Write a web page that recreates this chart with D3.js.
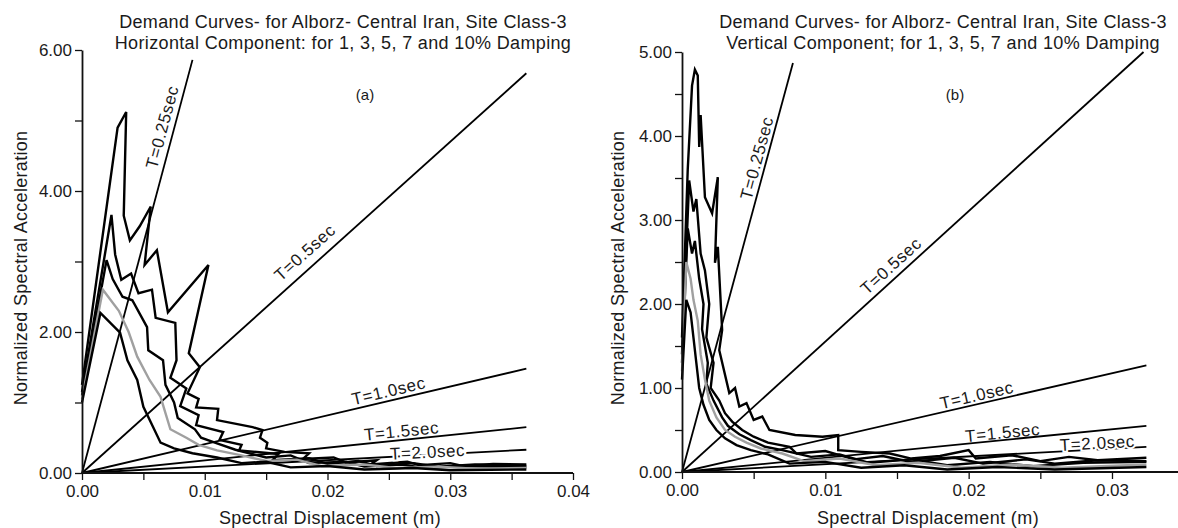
<!DOCTYPE html>
<html><head><meta charset="utf-8">
<script src="https://cdn.jsdelivr.net/npm/d3@7"></script>
<style>
body{margin:0;background:#fff}
text{font-family:"Liberation Sans",Arial,sans-serif;fill:#1a1a1a}
</style>
</head><body>
<svg id="chart" width="1178" height="528"></svg>
<script>
// ---------------- DATA ----------------
const periodLabels = ["T=0.25sec", "T=0.5sec", "T=1.0sec", "T=1.5sec", "T=2.0sec"];
const dampingLevels = ["1%", "3%", "5%", "7%", "10%"];

// Panel (a): horizontal component
const hTitle1 = "Demand Curves- for Alborz- Central Iran, Site Class-3";
const hTitle2 = "Horizontal Component: for 1, 3, 5, 7 and 10% Damping";
const hYTicks = [0, 1, 2, 3, 4, 5, 6];
const hYTickLabels = ["0.00", "", "2.00", "", "4.00", "", "6.00"];
const hXTicks = [0, 0.005, 0.01, 0.015, 0.02, 0.025, 0.03, 0.035, 0.04];
const hXTickLabels = ["0.00", "", "0.01", "", "0.02", "", "0.03", "", "0.04"];
// end points of the constant-period lines (they start at the origin)
const hPeriodEnds = [[0.0090, 5.86], [0.0362, 5.67], [0.0362, 1.48], [0.0362, 0.65], [0.0362, 0.33]];
const hCurve1 = [[0,1.25],[0.0029,4.9],[0.0036,5.12],[0.0034,3.65],[0.0039,3.3],[0.0047,3.5],[0.0056,3.78],[0.0051,2.95],[0.0061,3.16],[0.0070,2.28],[0.0103,2.95],[0.0087,1.70],[0.0096,1.50],[0.0086,1.13],[0.0095,1.05],[0.0093,0.93],[0.0111,0.91],[0.0110,0.75],[0.0139,0.65],[0.0147,0.61],[0.0145,0.50],[0.0151,0.43],[0.0150,0.35],[0.0165,0.30],[0.0185,0.28],[0.0180,0.20],[0.0205,0.22],[0.0215,0.15],[0.0240,0.18],[0.0235,0.12],[0.0265,0.16],[0.0275,0.11],[0.0300,0.14],[0.0310,0.10],[0.0335,0.13],[0.0362,0.12]];
const hCurve3 = [[0,1.15],[0.0024,3.66],[0.0027,3.1],[0.0032,2.74],[0.0040,2.83],[0.0046,2.55],[0.0057,2.6],[0.0060,2.2],[0.0076,2.13],[0.0077,1.60],[0.0072,1.35],[0.0085,1.20],[0.0080,0.95],[0.0095,0.82],[0.0093,0.68],[0.0115,0.58],[0.0112,0.47],[0.0130,0.40],[0.0128,0.32],[0.0160,0.27],[0.0155,0.18],[0.0185,0.21],[0.0200,0.13],[0.0225,0.17],[0.0240,0.10],[0.0270,0.14],[0.0290,0.09],[0.0320,0.12],[0.0362,0.10]];
const hCurve5 = [[0,1.1],[0.0020,3.02],[0.0025,2.75],[0.0033,2.5],[0.0041,2.45],[0.0053,2.07],[0.0054,1.74],[0.0066,1.6],[0.0068,1.25],[0.0075,1.0],[0.0078,0.78],[0.0092,0.62],[0.0097,0.50],[0.0110,0.42],[0.0125,0.33],[0.0150,0.22],[0.0170,0.25],[0.0185,0.14],[0.0215,0.16],[0.0230,0.09],[0.0260,0.12],[0.0280,0.07],[0.0310,0.10],[0.0362,0.08]];
const hCurve7 = [[0,1.05],[0.0017,2.6],[0.0030,2.3],[0.0038,2.0],[0.0045,1.65],[0.0055,1.32],[0.0064,1.08],[0.0068,0.85],[0.0072,0.62],[0.0085,0.50],[0.0095,0.40],[0.0110,0.32],[0.0130,0.25],[0.0150,0.17],[0.0175,0.19],[0.0195,0.10],[0.0230,0.12],[0.0255,0.07],[0.0290,0.09],[0.0320,0.06],[0.0362,0.07]];
const hCurve10 = [[0,1.0],[0.0015,2.27],[0.0031,1.99],[0.0037,1.6],[0.0045,1.32],[0.0050,0.94],[0.0058,0.65],[0.0064,0.43],[0.0075,0.35],[0.0090,0.28],[0.0110,0.22],[0.0130,0.14],[0.0150,0.16],[0.0170,0.08],[0.0200,0.10],[0.0230,0.05],[0.0270,0.07],[0.0300,0.04],[0.0362,0.05]];

// Panel (b): vertical component
const vTitle1 = "Demand Curves- for Alborz- Central Iran, Site Class-3";
const vTitle2 = "Vertical Component; for 1, 3, 5, 7 and 10% Damping";
const vYTicks = [0, 0.5, 1, 1.5, 2, 2.5, 3, 3.5, 4, 4.5, 5];
const vYTickLabels = ["0.00", "", "1.00", "", "2.00", "", "3.00", "", "4.00", "", "5.00"];
const vXTicks = [0, 0.005, 0.01, 0.015, 0.02, 0.025, 0.03, 0.035];
const vXTickLabels = ["0.00", "", "0.01", "", "0.02", "", "0.03", ""];
const vPeriodEnds = [[0.00774, 4.87], [0.0322, 5.0], [0.0324, 1.27], [0.0324, 0.55], [0.0324, 0.30]];
const vCurve1 = [[0,1.6],[0.0004,3.6],[0.0007,4.6],[0.0009,4.79],[0.0011,4.72],[0.0012,3.87],[0.0013,4.25],[0.0016,3.27],[0.0021,3.08],[0.0025,3.51],[0.0023,2.49],[0.0025,2.68],[0.0028,1.69],[0.0026,1.45],[0.0033,0.94],[0.0037,1.0],[0.0040,0.78],[0.0045,0.82],[0.0050,0.62],[0.0056,0.66],[0.0061,0.50],[0.0079,0.44],[0.0098,0.42],[0.0109,0.44],[0.0109,0.26],[0.0125,0.24],[0.0145,0.22],[0.0160,0.16],[0.0180,0.19],[0.0200,0.26],[0.0205,0.16],[0.0230,0.20],[0.0250,0.13],[0.0270,0.18],[0.0290,0.14],[0.0324,0.17]];
const vCurve3 = [[0,1.4],[0.0005,3.47],[0.0008,3.1],[0.0010,3.25],[0.0013,2.6],[0.0016,2.4],[0.0019,2.0],[0.0017,1.6],[0.0022,1.3],[0.0020,1.0],[0.0026,0.85],[0.0030,0.70],[0.0035,0.60],[0.0042,0.50],[0.0050,0.42],[0.0060,0.35],[0.0075,0.30],[0.0080,0.22],[0.0100,0.25],[0.0120,0.15],[0.0140,0.19],[0.0160,0.12],[0.0190,0.17],[0.0210,0.10],[0.0240,0.15],[0.0260,0.10],[0.0290,0.14],[0.0324,0.13]];
const vCurve5 = [[0,1.3],[0.0004,2.9],[0.0007,2.6],[0.0009,2.75],[0.0012,2.3],[0.0015,2.0],[0.0014,1.7],[0.0018,1.3],[0.0017,1.05],[0.0022,0.85],[0.0028,0.65],[0.0032,0.55],[0.0040,0.45],[0.0048,0.38],[0.0058,0.30],[0.0070,0.26],[0.0090,0.18],[0.0110,0.21],[0.0130,0.11],[0.0160,0.15],[0.0185,0.08],[0.0215,0.12],[0.0245,0.07],[0.0280,0.11],[0.0324,0.12]];
const vCurve7 = [[0,1.2],[0.0003,2.5],[0.0006,2.3],[0.0008,2.05],[0.0011,1.8],[0.0013,1.4],[0.0016,1.1],[0.0019,0.85],[0.0024,0.65],[0.0030,0.50],[0.0037,0.42],[0.0045,0.35],[0.0055,0.28],[0.0070,0.22],[0.0085,0.13],[0.0110,0.16],[0.0135,0.08],[0.0165,0.11],[0.0195,0.05],[0.0230,0.09],[0.0265,0.05],[0.0324,0.09]];
const vCurve10 = [[0,1.1],[0.0003,2.05],[0.0006,1.9],[0.0008,1.6],[0.0010,1.3],[0.0012,1.0],[0.0015,0.80],[0.0019,0.62],[0.0024,0.50],[0.0030,0.40],[0.0038,0.32],[0.0048,0.26],[0.0060,0.21],[0.0075,0.10],[0.0100,0.12],[0.0125,0.05],[0.0155,0.08],[0.0185,0.03],[0.0220,0.06],[0.0260,0.03],[0.0324,0.06]];

// ---------------- LAYOUT / STYLE ----------------
const svg = d3.select("#chart");
const curveColors = ["#000", "#000", "#000", "#a0a0a0", "#000"];
const FONT = '"Liberation Sans",Arial,sans-serif';

const panels = [
  { title1: hTitle1, title2: hTitle2, tag: "(a)", tagPos: [365, 100], titleX: 343,
    xDomain: [0, 0.04], xRange: [82, 573], yDomain: [0, 6], yRange: [473, 50], axisEnd: 573,
    xTicks: hXTicks, xLabels: hXTickLabels, yTicks: hYTicks, yLabels: hYTickLabels,
    yTitleX: 21, xTitleX: 330,
    periodEnds: hPeriodEnds,
    labelPlace: [[0.83, 12], [0.524, 15], [0.695, 10], [0.721, 9], [0.778, 3]],
    curves: [hCurve1, hCurve3, hCurve5, hCurve7, hCurve10] },
  { title1: vTitle1, title2: vTitle2, tag: "(b)", tagPos: [955, 100], titleX: 943,
    xDomain: [0, 0.035], xRange: [682, 682 + 0.035 * 14333], yDomain: [0, 5], yRange: [472, 52], axisEnd: 1178,
    xTicks: vXTicks, xLabels: vXTickLabels, yTicks: vYTicks, yLabels: vYTickLabels,
    yTitleX: 618, xTitleX: 928,
    periodEnds: vPeriodEnds,
    labelPlace: [[0.761, 10], [0.47, 12], [0.639, 9], [0.692, 7.5], [0.895, 6.5]],
    curves: [vCurve1, vCurve3, vCurve5, vCurve7, vCurve10] }
];

panels.forEach(p => {
  const g = svg.append("g");
  const x = d3.scaleLinear().domain(p.xDomain).range(p.xRange);
  const y = d3.scaleLinear().domain(p.yDomain).range(p.yRange);

  // titles
  [p.title1, p.title2].forEach((t, i) => {
    g.append("text").attr("x", p.titleX).attr("y", 28 + i * 20.5).attr("text-anchor", "middle")
      .style("font-size", "18px").style("letter-spacing", "0.35px").text(t);
  });
  g.append("text").attr("x", p.tagPos[0]).attr("y", p.tagPos[1]).attr("text-anchor", "middle")
    .style("font-size", "15px").text(p.tag);

  // period lines
  const line = d3.line().x(d => x(d[0])).y(d => y(d[1]));
  p.periodEnds.forEach(e => {
    g.append("path").datum([[0, 0], e]).attr("d", line)
      .attr("fill", "none").attr("stroke", "#000").attr("stroke-width", 1.8);
  });

  // demand curves
  p.curves.forEach((c, i) => {
    g.append("path").datum(c).attr("d", line)
      .attr("fill", "none").attr("stroke", curveColors[i])
      .attr("stroke-width", 2.4).attr("stroke-linejoin", "miter");
  });

  // period labels
  p.periodEnds.forEach((e, i) => {
    const x0 = x(0), y0 = y(0), x1 = x(e[0]), y1 = y(e[1]);
    const L = Math.hypot(x1 - x0, y1 - y0);
    const ux = (x1 - x0) / L, uy = (y1 - y0) / L;
    const nx = uy, ny = -ux;
    const [t, off] = p.labelPlace[i];
    const cx = x0 + ux * L * t + nx * off, cy = y0 + uy * L * t + ny * off;
    const ang = Math.atan2(y1 - y0, x1 - x0) * 180 / Math.PI;
    const txt = g.append("text")
      .attr("transform", `translate(${cx},${cy}) rotate(${ang})`)
      .attr("text-anchor", "middle").attr("dy", "0.35em")
      .style("font-size", "17px").style("letter-spacing", "0.6px").text(periodLabels[i]);
    if (i === 4) txt.attr("stroke", "#fff").attr("stroke-width", 4).attr("paint-order", "stroke");
  });

  // axes
  const xAxis = d3.axisBottom(x).tickValues(p.xTicks).tickFormat((d, i) => p.xLabels[i])
    .tickSize(7).tickSizeOuter(0).tickPadding(5);
  const ax = g.append("g").attr("transform", `translate(0,${y(0)})`).call(xAxis);
  ax.select(".domain").attr("d", `M${x(0)},0H${p.axisEnd}`).attr("stroke", "#111").attr("stroke-width", 1.8);
  ax.selectAll(".tick line").attr("stroke", "#111").attr("stroke-width", 1.3);
  ax.selectAll("text").style("font-size", "17px").attr("fill", "#1a1a1a").style("font-family", FONT);

  const yAxis = d3.axisLeft(y).tickValues(p.yTicks).tickFormat((d, i) => p.yLabels[i])
    .tickSize(7).tickSizeOuter(0).tickPadding(3);
  const ay = g.append("g").attr("transform", `translate(${x(0)},0)`).call(yAxis);
  ay.select(".domain").attr("stroke", "#111").attr("stroke-width", 1.8);
  ay.selectAll(".tick line").attr("stroke", "#111").attr("stroke-width", 1.3);
  ay.selectAll("text").style("font-size", "17px").attr("fill", "#1a1a1a").style("font-family", FONT);

  // axis titles
  g.append("text").attr("x", p.xTitleX).attr("y", 524).attr("text-anchor", "middle")
    .style("font-size", "18px").style("letter-spacing", "0.4px").text("Spectral Displacement (m)");
  g.append("text").attr("transform", `translate(${p.yTitleX},268) rotate(-90)`)
    .attr("text-anchor", "middle").attr("dy", "0.35em")
    .style("font-size", "18px").style("letter-spacing", "0.3px").text("Normalized Spectral Acceleration");
});
</script>
</body></html>
